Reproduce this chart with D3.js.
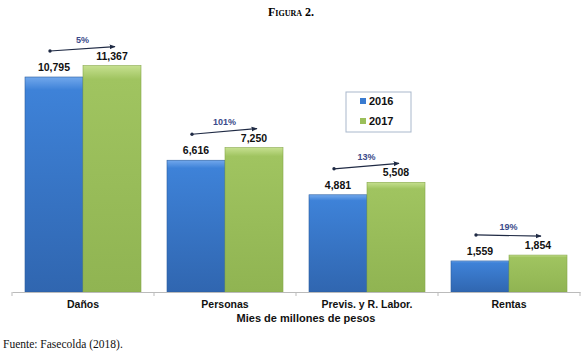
<!DOCTYPE html>
<html><head><meta charset="utf-8">
<script src="https://cdn.jsdelivr.net/npm/d3@7/dist/d3.min.js"></script>
<style>body{margin:0;background:#fff}svg{display:block}</style>
</head><body>
<script>
const categories = ["Daños", "Personas", "Previs. y R. Labor.", "Rentas"];
const years = ["2016", "2017"];
const values2016 = [10795, 6616, 4881, 1559];
const values2017 = [11367, 7250, 5508, 1854];
const growth = ["5%", "101%", "13%", "19%"];

const W = 581, H = 354;
const svg = d3.select("body").append("svg").attr("width", W).attr("height", H);
const defs = svg.append("defs");
function grad(id, c1, c2, c3){
  const g = defs.append("linearGradient").attr("id", id).attr("x1",0).attr("y1",0).attr("x2",0).attr("y2",1);
  g.append("stop").attr("offset","0%").attr("stop-color",c1);
  g.append("stop").attr("offset","6%").attr("stop-color",c2);
  g.append("stop").attr("offset","100%").attr("stop-color",c3);
}
grad("gBlue", "#72a8ec", "#3e82d8", "#3066b0");
grad("gGreen", "#c6e090", "#a0c460", "#90b452");
const fills = {"2016":"url(#gBlue)", "2017":"url(#gGreen)"};
const solid = {"2016":"#3a7bd0", "2017":"#9bbf5a"};

const x0 = d3.scaleBand().domain(categories).range([12, 580]).padding(0);
const x1 = d3.scaleBand().domain(years).range([13, x0.bandwidth()-13]).padding(0);
const y = d3.scaleLinear().domain([0, 12000]).range([292, 53]);

// title
svg.append("text").attr("x", 291).attr("y", 16).attr("text-anchor","middle")
  .style("font-family","'Liberation Serif', serif").style("font-weight","bold")
  .style("font-size","12px").style("font-variant","small-caps").text("Figura 2.");

const rows = categories.map((c,i)=>({cat:c, vals:[{yr:"2016", v:values2016[i]},{yr:"2017", v:values2017[i]}], g:growth[i], i}));

const grp = svg.append("g").selectAll("g").data(rows).join("g")
  .attr("transform", d=>`translate(${x0(d.cat)},0)`);

grp.selectAll("rect").data(d=>d.vals).join("rect")
  .attr("x", d=>x1(d.yr)).attr("width", x1.bandwidth())
  .attr("y", d=>y(d.v)).attr("height", d=>y(0)-y(d.v))
  .attr("fill", d=>fills[d.yr]).attr("stroke", d=>d.yr==="2016"?"#2c5e9e":"#86a84a").attr("stroke-width",0.6);

grp.selectAll("text.val").data(d=>d.vals).join("text").attr("class","val")
  .attr("x", d=>x1(d.yr)+x1.bandwidth()/2).attr("y", d=>y(d.v)-6)
  .attr("text-anchor","middle")
  .style("font-family","'Liberation Sans', Arial, sans-serif").style("font-weight","bold")
  .style("font-size","10.5px").attr("fill","#111")
  .text(d=>d3.format(",")(d.v));

// growth arrows
defs.append("marker").attr("id","ah").attr("viewBox","0 0 10 10").attr("refX",9).attr("refY",5)
  .attr("markerWidth",5).attr("markerHeight",5).attr("orient","auto")
  .append("path").attr("d","M0,1 L10,5 L0,9 Z").attr("fill","#1f2a44");
defs.append("marker").attr("id","dot").attr("viewBox","0 0 10 10").attr("refX",5).attr("refY",5)
  .attr("markerWidth",3.5).attr("markerHeight",3.5)
  .append("circle").attr("cx",5).attr("cy",5).attr("r",4).attr("fill","#1f2a44");

const ax1 = d=>x1("2016")+25, ay1 = d=>y(d.vals[0].v)-26;
const ax2 = d=>x1("2017")+32, ay2 = d=>y(d.vals[1].v)-19;
grp.append("line")
  .attr("x1", ax1).attr("y1", ay1).attr("x2", ax2).attr("y2", ay2)
  .attr("stroke","#1f2a44").attr("stroke-width",1.2)
  .attr("marker-end","url(#ah)").attr("marker-start","url(#dot)");

grp.append("text")
  .attr("x", d=>(ax1(d)+ax2(d))/2).attr("y", d=>(ay1(d)+ay2(d))/2-6)
  .attr("text-anchor","middle")
  .style("font-family","'Liberation Sans', Arial, sans-serif").style("font-weight","bold")
  .style("font-size","9px").attr("fill","#3a4a8a")
  .text(d=>d.g);

// axis
const axis = svg.append("g").attr("transform","translate(0,292)")
  .call(d3.axisBottom(x0).tickSize(0).tickSizeOuter(0));
axis.select(".domain").attr("stroke","#bbb");
axis.selectAll(".tick text").attr("dy","1.2em")
  .style("font-family","'Liberation Sans', Arial, sans-serif").style("font-weight","bold")
  .style("font-size","10.5px").attr("fill","#111");
const bounds = x0.domain().map(c=>x0(c)).concat([x0.range()[1]]);
svg.append("g").selectAll("line").data(bounds).join("line")
  .attr("x1",d=>d).attr("x2",d=>d).attr("y1",292).attr("y2",296).attr("stroke","#bbb");

svg.append("text").attr("x", 306).attr("y", 322).attr("text-anchor","middle")
  .style("font-family","'Liberation Sans', Arial, sans-serif").style("font-weight","bold")
  .style("font-size","11px").attr("fill","#111").text("Mies de millones de pesos");

// legend
const lg = svg.append("g");
lg.append("rect").attr("x",346).attr("y",92).attr("width",65).attr("height",40)
  .attr("fill","#fff").attr("stroke","#a9b8cc").attr("stroke-width",1);
years.forEach((yr,i)=>{
  lg.append("rect").attr("x",360).attr("y",98+i*20).attr("width",6).attr("height",6).attr("fill",solid[yr]);
  lg.append("text").attr("x",369).attr("y",105+i*20)
    .style("font-family","'Liberation Sans', Arial, sans-serif").style("font-weight","bold")
    .style("font-size","11px").attr("fill","#111").text(yr);
});

svg.append("text").attr("x", 3).attr("y", 348)
  .style("font-family","'Liberation Serif', serif").style("font-size","11.5px").attr("fill","#111")
  .text("Fuente: Fasecolda (2018).");
</script>
</body></html>
